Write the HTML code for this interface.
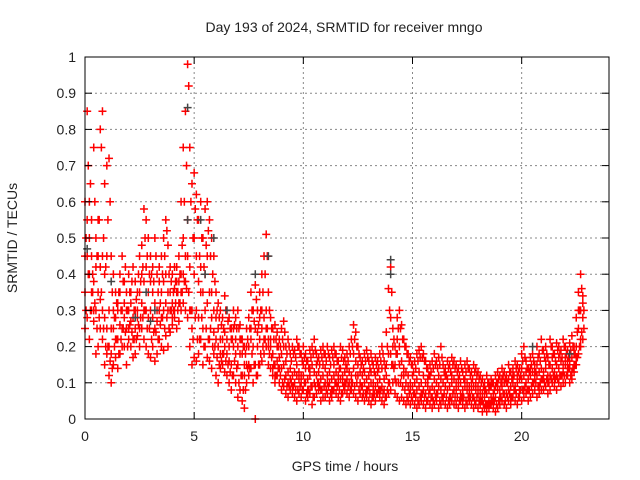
<!DOCTYPE html>
<html><head><meta charset="utf-8"><style>
body{margin:0;background:#fff}
svg{display:block;font-family:"Liberation Sans",sans-serif}
</style></head><body>
<svg id="chart" width="640" height="480" viewBox="0 0 640 480">
<rect width="640" height="480" fill="#fff"/>
<text x="344" y="32" font-size="14" text-anchor="middle" fill="#222">Day 193 of 2024, SRMTID for receiver mngo</text>
<text x="345" y="471" font-size="14" text-anchor="middle" fill="#222">GPS time / hours</text>
<text x="17" y="238" font-size="14" text-anchor="middle" fill="#222" transform="rotate(-90 17 238)">SRMTID / TECUs</text>
<g id="grid"></g>
<g id="marks"></g>
<rect x="85" y="57" width="524" height="362" fill="none" stroke="#000" stroke-width="1"/>
<g id="ticks"></g>
</svg>
<script>
const xTicks=[0,5,10,15,20];
const yTicks=[0,0.1,0.2,0.3,0.4,0.5,0.6,0.7,0.8,0.9,1];
const yTickLabels=["0","0.1","0.2","0.3","0.4","0.5","0.6","0.7","0.8","0.9","1"];
const tStep=0.1;
const redHigh=[.45,.85,.6,.55,.75,.5,.45,.8,.85,.65,.7,.72,.45,.4,.35,.3,.4,.45,.38,.35,.4,.32,.42,.38,.35,.45,.48,.58,.55,.5,.45,.42,.5,.4,.38,.45,.5,.55,.48,.42,.4,.42,.38,.45,.6,.75,.85,.98,.75,.65,.68,.62,.55,.6,.5,.58,.6,.55,.5,.45,.35,.32,.3,.28,.34,.3,.28,.25,.3,.28,.3,.26,.22,.2,.25,.28,.35,.3,.37,.3,.35,.4,.45,.51,.35,.28,.25,.26,.24,.22,.25,.27,.2,.22,.18,.2,.19,.22,.2,.18,.2,.18,.16,.19,.2,.22,.18,.17,.19,.2,.18,.2,.17,.19,.2,.18,.16,.2,.19,.17,.18,.2,.22,.26,.24,.2,.17,.16,.18,.19,.16,.18,.15,.17,.16,.18,.2,.16,.24,.36,.42,.25,.2,.28,.3,.26,.22,.2,.18,.17,.15,.16,.18,.19,.2,.18,.16,.14,.15,.16,.18,.16,.17,.2,.15,.14,.16,.15,.17,.16,.15,.14,.16,.13,.15,.16,.14,.13,.15,.14,.13,.12,.11,.1,.12,.1,.11,.1,.12,.13,.12,.14,.13,.12,.15,.13,.14,.16,.15,.14,.18,.2,.16,.14,.17,.18,.15,.2,.18,.22,.19,.2,.17,.22,.2,.18,.21,.2,.19,.22,.2,.19,.21,.23,.2,.28,.35,.4,.34];
const redLow=[.25,.28,.22,.3,.27,.18,.2,.25,.22,.15,.18,.12,.1,.15,.17,.14,.18,.2,.2,.15,.22,.2,.17,.18,.23,.2,.25,.22,.2,.18,.17,.2,.16,.18,.22,.2,.19,.23,.2,.24,.26,.28,.25,.27,.3,.32,.3,.28,.2,.15,.17,.16,.18,.22,.15,.2,.17,.16,.14,.18,.12,.1,.14,.15,.13,.12,.1,.08,.12,.1,.06,.08,.05,.03,.1,.12,.14,.1,0,.12,.15,.16,.18,.2,.15,.14,.12,.1,.12,.1,.08,.09,.07,.06,.08,.07,.06,.05,.07,.06,.08,.05,.06,.07,.04,.06,.07,.08,.05,.06,.06,.07,.05,.06,.08,.07,.06,.05,.07,.08,.07,.06,.08,.07,.06,.05,.07,.06,.05,.06,.05,.04,.06,.05,.07,.06,.05,.04,.06,.07,.08,.1,.07,.06,.05,.06,.05,.04,.05,.04,.05,.04,.03,.04,.05,.04,.03,.05,.04,.03,.04,.05,.03,.04,.05,.04,.03,.04,.05,.04,.04,.03,.05,.04,.03,.04,.05,.04,.03,.04,.03,.04,.02,.03,.02,.03,.04,.03,.02,.03,.04,.05,.04,.03,.05,.04,.06,.05,.04,.06,.05,.06,.07,.05,.06,.07,.08,.06,.07,.08,.08,.09,.07,.08,.1,.09,.08,.1,.09,.1,.1,.12,.1,.11,.13,.15,.18,.2,.22];
const redMid=[.35,.55,.4,.45,.38,.3,.35,.42,.3,.28,.25,.2,.18,.25,.28,.22,.26,.3,.28,.25,.3,.27,.28,.25,.3,.35,.32,.38,.3,.35,.3,.28,.32,.27,.3,.35,.38,.32,.3,.35,.32,.36,.35,.38,.4,.5,.45,.55,.42,.3,.4,.3,.28,.35,.25,.3,.32,.35,.28,.24,.22,.2,.18,.22,.2,.18,.16,.15,.2,.18,.15,.18,.12,.15,.2,.15,.22,.2,.15,.2,.22,.25,.28,.3,.22,.2,.18,.15,.16,.14,.14,.15,.12,.13,.11,.12,.1,.12,.11,.1,.12,.1,.11,.12,.09,.13,.12,.1,.11,.12,.1,.12,.1,.11,.12,.13,.1,.11,.12,.1,.11,.1,.12,.14,.16,.12,.1,.09,.1,.11,.09,.1,.08,.09,.1,.11,.09,.08,.12,.18,.28,.2,.15,.18,.2,.16,.12,.1,.09,.1,.09,.1,.08,.09,.1,.08,.07,.09,.08,.09,.08,.1,.09,.08,.1,.09,.08,.09,.1,.08,.08,.09,.07,.08,.09,.08,.07,.08,.09,.08,.07,.06,.05,.06,.07,.05,.06,.07,.06,.08,.08,.09,.07,.1,.08,.09,.1,.09,.1,.11,.11,.12,.1,.11,.12,.13,.11,.12,.13,.14,.13,.14,.12,.15,.14,.13,.15,.14,.16,.15,.15,.16,.14,.17,.18,.2,.25,.3,.28];
const redExtra=[.6,.45,.5,.35,.3,.42,.55,.33,.45,.4,.45,.3,.25,.3,.22,.32,.35,.25,.32,.3,.25,.35,.22,.3,.28,.25,.4,.3,.42,.28,.38,.35,.25,.3,.42,.28,.3,.4,.35,.3,.28,.3,.42,.32,.35,.4,.38,.45,.3,.25,.5,.45,.38,.42,.35,.4,.45,.22,.35,.3,.28,.25,.22,.18,.24,.22,.2,.22,.25,.22,.2,.22,.18,.12,.15,.2,.25,.3,.25,.24,.28,.3,.22,.25,.2,.22,.14,.12,.2,.17,.18,.2,.16,.1,.14,.09,.13,.15,.13,.12,.15,.14,.08,.14,.15,.1,.15,.13,.08,.15,.14,.1,.13,.08,.15,.1,.12,.14,.1,.13,.14,.13,.1,.18,.12,.15,.13,.12,.13,.08,.12,.13,.1,.12,.13,.08,.14,.11,.15,.1,.18,.15,.11,.22,.15,.12,.14,.13,.12,.08,.12,.07,.11,.13,.07,.12,.1,.11,.12,.06,.11,.07,.12,.11,.06,.12,.11,.06,.12,.11,.1,.11,.1,.06,.11,.1,.09,.1,.06,.1,.09,.08,.07,.08,.04,.08,.09,.05,.09,.1,.06,.11,.1,.07,.11,.06,.12,.08,.12,.08,.14,.08,.13,.08,.14,.1,.13,.15,.09,.11,.11,.16,.1,.12,.17,.11,.12,.17,.12,.13,.17,.14,.16,.13,.15,.17,.3,.22,.32];
const redUpperMid=[.5,.7,.65,.4,.6,.45,.55,.75,.5,.42,.55,.6,.35,.28,.32,.35,.3,.38,.42,.3,.35,.38,.3,.33,.4,.38,.42,.5,.45,.4,.4,.38,.45,.35,.32,.4,.45,.52,.4,.38,.35,.38,.35,.4,.48,.6,.7,.92,.6,.5,.58,.55,.45,.5,.42,.48,.52,.45,.4,.38,.3,.28,.26,.25,.3,.27,.25,.22,.26,.25,.25,.22,.2,.18,.22,.25,.3,.27,.33,.26,.3,.35,.4,.45,.3,.25,.22,.22,.2,.2,.22,.24,.18,.2,.16,.18,.17,.2,.18,.16,.17,.16,.14,.17,.18,.19,.16,.15,.17,.18,.16,.18,.15,.17,.18,.16,.14,.17,.16,.15,.16,.18,.2,.22,.2,.18,.15,.14,.16,.17,.14,.16,.13,.15,.14,.16,.18,.14,.2,.3,.35,.22,.18,.25,.25,.22,.2,.18,.16,.15,.13,.14,.16,.17,.17,.16,.14,.12,.13,.14,.15,.14,.15,.17,.13,.12,.14,.13,.15,.14,.13,.12,.14,.11,.13,.14,.12,.11,.13,.12,.11,.1,.09,.08,.1,.09,.1,.08,.1,.11,.1,.12,.11,.1,.13,.11,.12,.14,.13,.12,.16,.17,.14,.13,.15,.16,.13,.17,.16,.19,.17,.18,.15,.2,.18,.16,.19,.18,.17,.2,.18,.17,.19,.2,.18,.24,.3,.36,.3];
const redLowerMid=[.3,.4,.3,.35,.32,.25,.28,.35,.25,.2,.2,.16,.14,.2,.22,.18,.22,.25,.24,.2,.26,.24,.22,.22,.26,.28,.28,.3,.25,.25,.22,.24,.24,.22,.26,.28,.25,.28,.25,.3,.3,.32,.3,.32,.35,.38,.36,.35,.3,.22,.28,.22,.22,.28,.2,.25,.22,.25,.2,.2,.17,.15,.16,.18,.16,.15,.13,.12,.16,.14,.1,.12,.08,.08,.14,.14,.18,.15,.12,.15,.18,.2,.22,.25,.18,.17,.15,.12,.14,.12,.1,.11,.09,.09,.1,.09,.08,.08,.09,.08,.1,.07,.08,.09,.06,.09,.1,.09,.08,.09,.08,.09,.07,.08,.1,.09,.08,.07,.09,.1,.09,.08,.1,.09,.1,.08,.09,.07,.07,.08,.07,.06,.07,.07,.08,.08,.07,.06,.08,.1,.15,.14,.1,.1,.1,.09,.08,.06,.07,.06,.07,.06,.05,.06,.07,.06,.05,.07,.06,.05,.06,.07,.05,.06,.07,.06,.05,.06,.07,.06,.06,.05,.06,.06,.05,.06,.06,.06,.05,.06,.05,.05,.04,.04,.04,.04,.05,.05,.04,.05,.06,.07,.05,.06,.07,.06,.08,.07,.06,.08,.08,.09,.08,.08,.09,.1,.1,.09,.1,.11,.1,.11,.1,.11,.12,.11,.11,.12,.12,.12,.12,.14,.12,.14,.15,.17,.2,.24,.25];
const grayTimes=[0.1,1.2,2.3,2.8,3.0,3.2,4.7,4.7,5.3,5.5,5.9,6.5,7.8,8.4,14.0,14.0,20.5,22.2];
const grayValues=[0.47,0.38,0.28,0.35,0.27,0.3,0.86,0.55,0.55,0.4,0.5,0.3,0.4,0.45,0.44,0.4,0.2,0.18];

const X0=85,X1=609,Y0=419,Y1=57,XMAX=24,YMAX=1;
const xs=v=>X0+(v/XMAX)*(X1-X0);
const ys=v=>Y0-(v/YMAX)*(Y0-Y1);
const NS="http://www.w3.org/2000/svg";
const grid=document.getElementById('grid'),ticks=document.getElementById('ticks'),marks=document.getElementById('marks');
function mk(tag,attrs,parent){const e=document.createElementNS(NS,tag);for(const k in attrs)e.setAttribute(k,attrs[k]);parent.appendChild(e);return e;}
yTicks.forEach((v,i)=>{
  const y=ys(v);
  if(i>0&&i<yTicks.length-1){const g=mk('line',{x1:X0,x2:X1,y1:y,y2:y,stroke:'#888','stroke-dasharray':'2,3'},grid);
  
  }
  const t1=mk('line',{x1:X0,x2:X0+7,y1:y,y2:y,stroke:'#000'},ticks);
  
  
  const t2=mk('line',{x1:X1-7,x2:X1,y1:y,y2:y,stroke:'#000'},ticks);
  
  
  const l=mk('text',{x:X0-9,y:y+5,'font-size':14,'text-anchor':'end',fill:'#222'},ticks);
  l.textContent=yTickLabels[i];
  
  
});
xTicks.forEach(v=>{
  const x=xs(v);
  if(v>0){const g=mk('line',{x1:x,x2:x,y1:Y0,y2:Y1,stroke:'#888','stroke-dasharray':'2,3'},grid);
  
  }
  const t1=mk('line',{x1:x,x2:x,y1:Y0,y2:Y0-7,stroke:'#000'},ticks);
  
  
  const t2=mk('line',{x1:x,x2:x,y1:Y1,y2:Y1+7,stroke:'#000'},ticks);
  
  
  const l=mk('text',{x:x,y:Y0+22,'font-size':14,'text-anchor':'middle',fill:'#222'},ticks);
  l.textContent=String(v);
  
  
});
function plus(t,v,color,name){
  const x=xs(t),y=ys(v);
  const p=mk('path',{d:`M${x-4} ${y}H${x+4}M${x} ${y-4}V${y+4}`,stroke:color,'stroke-width':1.5,fill:'none'},marks);
  
  
}
[redHigh,redLow,redMid,redExtra].forEach(arr=>{
  arr.forEach((v,i)=>plus(i*tStep,v,'#f00','red-point'));
});
[redUpperMid,redLowerMid].forEach(arr=>{
  arr.forEach((v,i)=>plus(i*tStep+tStep/2,v,'#f00','red-point'));
});
grayTimes.forEach((t,i)=>plus(t,grayValues[i],'#444','gray-point'));
</script>
</body></html>
